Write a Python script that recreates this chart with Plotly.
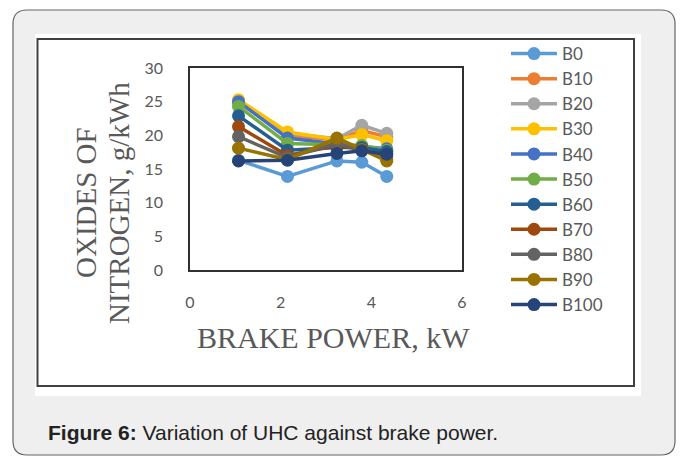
import plotly.graph_objects as go

# ---------------- data ----------------
brake_power = [1.07, 2.15, 3.24, 3.79, 4.34]
series_names = ["B0", "B10", "B20", "B30", "B40", "B50", "B60", "B70", "B80", "B90", "B100"]
B0 = [16.3, 13.9, 16.2, 16.0, 13.9]
B10 = [24.9, 20.0, 19.3, 20.7, 19.8]
B20 = [25.1, 20.3, 19.5, 21.5, 20.3]
B30 = [25.3, 20.5, 19.4, 20.1, 19.2]
B40 = [25.0, 19.6, 18.7, 18.3, 18.0]
B50 = [24.3, 18.8, 18.6, 18.5, 17.8]
B60 = [22.9, 17.8, 18.2, 18.2, 17.6]
B70 = [21.3, 17.0, 18.5, 17.9, 16.4]
B80 = [19.8, 16.7, 18.8, 17.8, 16.8]
B90 = [18.1, 16.4, 19.6, 17.9, 16.2]
B100 = [16.2, 16.3, 17.3, 17.7, 17.2]
series_values = [B0, B10, B20, B30, B40, B50, B60, B70, B80, B90, B100]
colors = ["#5B9BD5", "#ED7D31", "#A5A5A5", "#FFC000", "#4472C4", "#70AD47",
          "#255E91", "#9E480E", "#636363", "#997300", "#264478"]
x_ticks = [0, 2, 4, 6]
y_ticks = [0, 5, 10, 15, 20, 25, 30]

# ---------------- layout geometry ----------------
W, H = 683, 456
L, R, T, B = 190, 462, 68, 270
PW, PH = R - L, B - T


def px(x):
    return (x - L) / PW


def py(y):
    return (B - y) / PH


fig = go.Figure()
for name, vals, col in zip(series_names, series_values, colors):
    fig.add_trace(go.Scatter(
        x=brake_power, y=vals, name=name, mode="lines+markers",
        line=dict(color=col, width=3.5),
        marker=dict(color=col, size=13),
    ))

shapes = []
# outer rounded grey card
x0, y0, x1, y1, r = 13, 10, 675, 455, 14
path = (f"M{px(x0)},{py(y0 + r)} Q{px(x0)},{py(y0)} {px(x0 + r)},{py(y0)} "
        f"L{px(x1 - r)},{py(y0)} Q{px(x1)},{py(y0)} {px(x1)},{py(y0 + r)} "
        f"L{px(x1)},{py(y1 - r)} Q{px(x1)},{py(y1)} {px(x1 - r)},{py(y1)} "
        f"L{px(x0 + r)},{py(y1)} Q{px(x0)},{py(y1)} {px(x0)},{py(y1 - r)} Z")
shapes.append(dict(type="path", xref="paper", yref="paper", path=path,
                   fillcolor="#EFEFEF", line=dict(color="#666666", width=1.2),
                   layer="below"))
# white panel
shapes.append(dict(type="rect", xref="paper", yref="paper",
                   x0=px(35), x1=px(641), y0=py(34), y1=py(396),
                   fillcolor="white", line=dict(width=0), layer="below"))
# chart border
shapes.append(dict(type="rect", xref="paper", yref="paper",
                   x0=px(37.5), x1=px(634), y0=py(39), y1=py(386),
                   fillcolor="rgba(0,0,0,0)", line=dict(color="#404040", width=2),
                   layer="below"))

annotations = [
    dict(text="OXIDES OF", x=px(86), y=py(203), xref="paper", yref="paper",
         textangle=-90, showarrow=False, xanchor="center", yanchor="middle",
         font=dict(family="Liberation Serif", size=29, color="#595959")),
    dict(text="NITROGEN, g/kWh", x=px(119), y=py(203), xref="paper", yref="paper",
         textangle=-90, showarrow=False, xanchor="center", yanchor="middle",
         font=dict(family="Liberation Serif", size=29, color="#595959")),
    dict(text="BRAKE POWER, kW", x=px(333), y=py(337), xref="paper", yref="paper",
         showarrow=False, xanchor="center", yanchor="middle",
         font=dict(family="Liberation Serif", size=30, color="#595959")),
    dict(text="<b>Figure 6:</b> Variation of UHC against brake power.",
         x=px(46), y=py(432), xref="paper", yref="paper",
         showarrow=False, xanchor="left", yanchor="middle",
         font=dict(family="Liberation Sans", size=21, color="#222222")),
]

fig.update_layout(
    width=W, height=H,
    margin=dict(l=L, r=W - R, t=T, b=H - B, pad=0),
    paper_bgcolor="white", plot_bgcolor="white",
    shapes=shapes, annotations=annotations,
    showlegend=True,
    legend=dict(x=px(506), y=py(36), xanchor="left", yanchor="top",
                bgcolor="rgba(0,0,0,0)", itemwidth=46, maxheight=400,
                font=dict(family="Lato", size=17, color="#595959")),
    xaxis=dict(range=[0, 6], tickvals=x_ticks, showgrid=False, zeroline=False,
               showline=True, mirror=True, linecolor="#303030", linewidth=1.5,
               ticks="", ticklabelstandoff=17,
               tickfont=dict(family="Lato", size=16, color="#595959")),
    yaxis=dict(range=[0, 30], tickvals=y_ticks, showgrid=False, zeroline=False,
               showline=True, mirror=True, linecolor="#303030", linewidth=1.5,
               ticks="", ticklabelstandoff=22,
               tickfont=dict(family="Lato", size=16, color="#595959")),
)

fig.write_html("out.html")
